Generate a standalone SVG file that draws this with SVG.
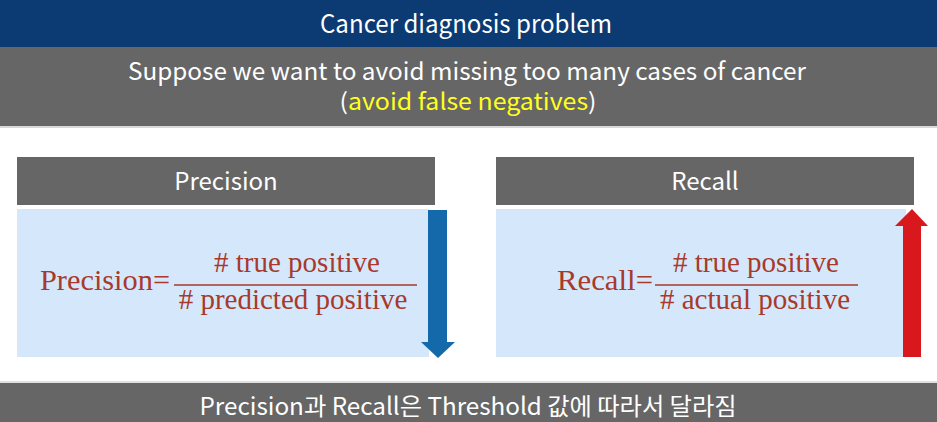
<svg xmlns="http://www.w3.org/2000/svg" width="937" height="422" viewBox="0 0 937 422">
<style>
.hd{font-family:"Noto Sans CJK KR","Noto Sans",sans-serif;fill:#ffffff;text-anchor:middle}
.fm{font-family:"Liberation Serif","Times New Roman",serif;fill:#a8392b;font-size:29px}
.fc{text-anchor:middle}
.bar{fill:#666666}
.box{fill:#d5e8fb}
.fl{stroke:#a8392b;stroke-width:1.6}
</style>
<rect width="937" height="422" fill="#ffffff"/>
<g id="title">
<rect x="0" y="0" width="937" height="47" fill="#0c3a73"/>
<text class="hd" x="466" y="33" font-size="25" textLength="292" lengthAdjust="spacingAndGlyphs">Cancer diagnosis problem</text>
</g>
<g id="subtitle">
<rect class="bar" x="0" y="47" width="937" height="79"/>
<rect x="0" y="126" width="937" height="2" fill="#d8d8d8"/>
<text class="hd" x="467" y="80" font-size="24" textLength="678" lengthAdjust="spacingAndGlyphs">Suppose we want to avoid missing too many cases of cancer</text>
<text class="hd" x="468" y="110" font-size="23" textLength="257" lengthAdjust="spacingAndGlyphs">(<tspan fill="#ffff1e">avoid false negatives</tspan>)</text>
</g>
<g id="precision">
<rect class="bar" x="17" y="157" width="418" height="48"/>
<text class="hd" x="226" y="190" font-size="24">Precision</text>
<rect class="box" x="17" y="209" width="412" height="148"/>
<text class="fm" x="40" y="290" textLength="130" lengthAdjust="spacingAndGlyphs">Precision=</text>
<line class="fl" x1="174" y1="285" x2="417" y2="285"/>
<text class="fm fc" x="297" y="272">&#35; true positive</text>
<text class="fm fc" x="293" y="309">&#35; predicted positive</text>
</g>
<g id="recall">
<rect class="bar" x="496" y="157" width="418" height="48"/>
<text class="hd" x="705" y="190" font-size="24">Recall</text>
<rect class="box" x="496" y="209" width="410" height="148"/>
<text class="fm" x="557" y="290" textLength="96" lengthAdjust="spacingAndGlyphs">Recall=</text>
<line class="fl" x1="655" y1="285" x2="858" y2="285"/>
<text class="fm fc" x="756" y="272">&#35; true positive</text>
<text class="fm fc" x="755" y="309">&#35; actual positive</text>
</g>
<g id="connectors">
<polygon points="428,210 447,210 447,342 455,342 438,358 421,342 428,342" fill="#1469aa"/>
<polygon points="903,357 921,357 921,226 928,226 912,209 895,226 903,226" fill="#d9181e"/>
</g>
<g id="footer">
<rect class="bar" x="0" y="383" width="937" height="39"/>
<rect x="0" y="381" width="937" height="2" fill="#e0e0e0"/>
<text class="hd" x="468" y="415" font-size="24" textLength="537" lengthAdjust="spacingAndGlyphs">Precision과 Recall은 Threshold 값에 따라서 달라짐</text>
</g>
</svg>
